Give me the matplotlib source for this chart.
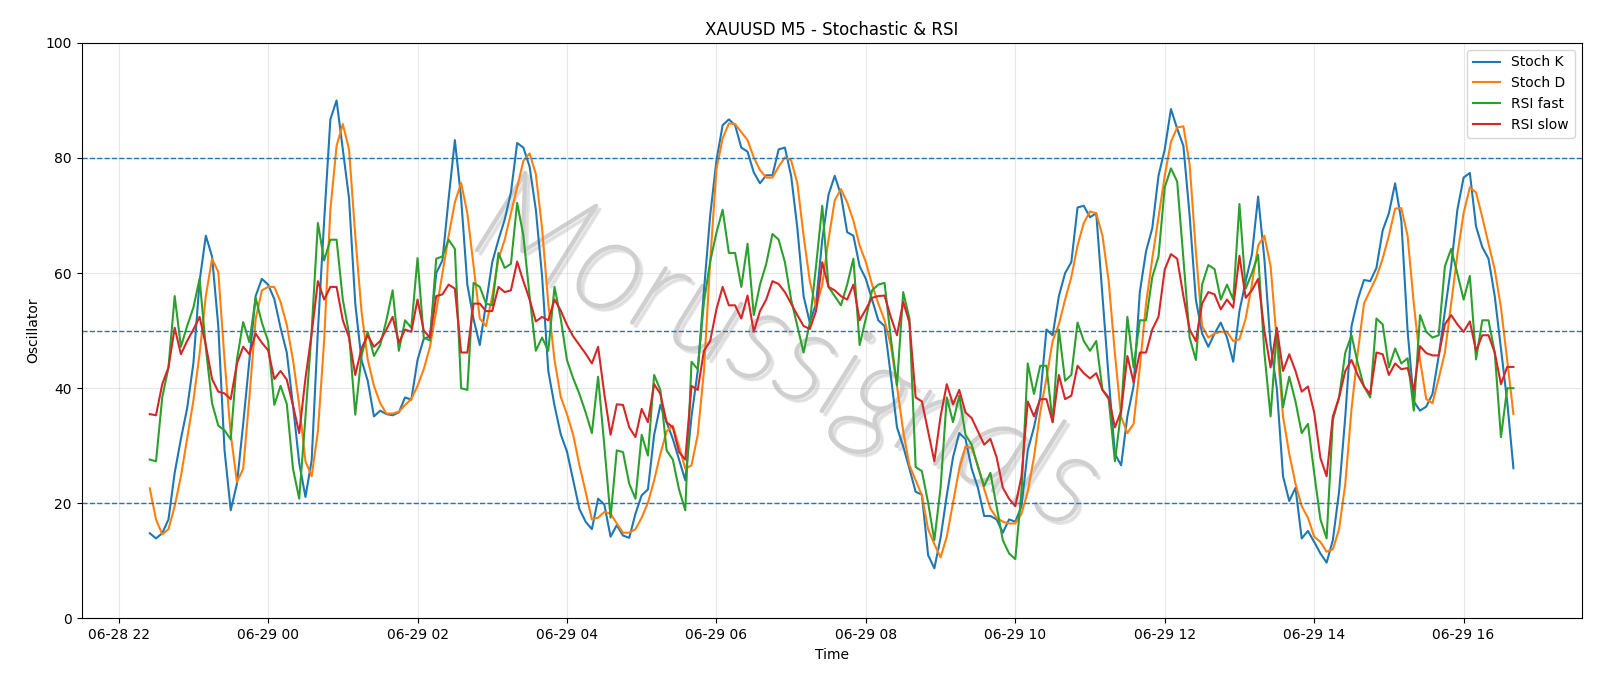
import numpy as np
import pandas as pd
import matplotlib
matplotlib.use('Agg')
import matplotlib.pyplot as plt
import matplotlib.dates as mdates
import matplotlib.patheffects as pe

START = '2025-06-28 22:25'   # first M5 bar
N_BARS = 220

# Stochastic %K
stoch_k = [
    14.8, 13.9, 14.8, 17.2, 25.3, 31.2, 36.5, 44.3, 58.6, 66.5,
    62.9, 50.8, 29.3, 18.8, 23.4, 33.8, 44.9, 56.0, 59.0, 58.0,
    55.5, 50.5, 46.2, 37.0, 27.0, 21.1, 27.5, 50.0, 69.0, 86.7,
    90.0, 81.5, 73.0, 54.7, 44.9, 41.3, 35.1, 36.1, 35.5, 35.3,
    35.8, 38.4, 38.0, 44.9, 48.6, 49.0, 60.0, 62.2, 73.0, 83.1,
    73.0, 58.0, 52.0, 47.5, 54.7, 61.9, 65.8, 69.3, 74.0, 82.6,
    81.8, 78.5, 71.0, 59.5, 43.0, 37.0, 32.0, 29.0, 24.0, 19.0,
    16.8, 15.5, 20.8, 19.8, 14.2, 16.2, 14.4, 14.0, 18.2, 21.4,
    22.4, 31.9, 37.1, 34.1, 31.2, 27.6, 24.0, 35.1, 43.0, 57.0,
    70.0, 79.5, 85.7, 86.7, 85.7, 81.8, 81.1, 77.5, 75.6, 77.0,
    77.0, 81.5, 81.8, 76.9, 67.8, 56.0, 51.4, 54.7, 65.8, 73.6,
    76.9, 73.6, 67.1, 66.5, 61.2, 59.0, 55.4, 51.8, 50.8, 42.3,
    33.2, 29.9, 26.0, 22.0, 21.5, 11.0, 8.7, 14.0, 21.4, 28.0,
    32.2, 31.2, 26.0, 22.7, 17.8, 17.8, 17.2, 14.9, 17.2, 16.8,
    19.5, 29.2, 33.2, 38.4, 50.2, 49.2, 56.0, 60.0, 61.9, 71.4,
    71.7, 69.7, 70.4, 56.0, 41.7, 28.6, 26.6, 35.1, 40.4, 56.7,
    63.8, 67.8, 76.9, 81.5, 88.5, 85.1, 82.1, 70.0, 55.4, 49.5,
    47.2, 49.5, 51.4, 48.8, 44.6, 53.4, 58.6, 63.2, 73.3, 62.5,
    47.5, 40.0, 24.7, 20.4, 22.7, 13.9, 15.2, 13.3, 11.3, 9.7,
    13.6, 22.0, 35.1, 50.8, 55.4, 58.8, 58.6, 60.9, 67.4, 70.4,
    75.6, 69.1, 50.0, 37.7, 36.1, 36.8, 39.0, 45.6, 53.4, 61.2,
    71.0, 76.6, 77.4, 68.1, 64.5, 62.5, 56.0, 46.9, 37.7, 26.1,
]

# Stochastic %D
stoch_d = [
    22.6, 17.2, 14.6, 15.5, 19.5, 24.7, 31.2, 37.8, 46.0, 56.0,
    62.5, 60.2, 45.0, 32.0, 23.7, 26.0, 38.4, 52.0, 57.0, 57.6,
    57.6, 55.0, 51.0, 44.9, 37.1, 27.3, 24.7, 32.5, 48.2, 71.0,
    82.1, 85.9, 81.5, 66.5, 53.4, 45.0, 40.4, 37.4, 35.6, 35.6,
    35.9, 37.1, 38.1, 40.4, 43.3, 47.2, 53.4, 60.0, 66.5, 72.3,
    75.7, 70.4, 61.2, 52.1, 50.8, 56.0, 62.5, 65.8, 70.4, 74.9,
    79.5, 80.8, 77.2, 67.8, 54.7, 44.9, 38.5, 35.5, 31.9, 26.6,
    22.0, 17.2, 17.5, 18.5, 18.2, 16.5, 14.9, 14.9, 15.5, 17.5,
    20.1, 24.0, 28.6, 32.5, 33.5, 29.9, 26.0, 26.6, 31.9, 43.0,
    62.0, 78.0, 83.4, 86.0, 85.9, 84.5, 83.1, 80.1, 77.9, 76.6,
    76.6, 78.5, 80.1, 79.6, 75.6, 66.5, 58.6, 54.0, 58.0, 65.8,
    72.6, 74.6, 72.3, 69.1, 64.8, 61.9, 58.0, 54.7, 51.8, 47.5,
    40.4, 32.5, 26.6, 24.0, 21.4, 15.5, 12.9, 10.6, 14.2, 20.1,
    26.0, 29.9, 29.6, 26.6, 22.5, 19.1, 17.5, 16.8, 16.5, 16.5,
    18.2, 22.0, 28.0, 35.8, 41.7, 48.2, 51.1, 55.4, 59.3, 64.8,
    68.7, 70.7, 70.4, 66.5, 58.6, 46.0, 35.0, 32.2, 33.8, 43.6,
    54.7, 62.5, 69.7, 76.9, 82.8, 85.3, 85.5, 78.9, 63.8, 50.8,
    48.8, 49.5, 49.8, 49.8, 48.2, 48.5, 52.1, 58.0, 64.8, 66.5,
    61.2, 48.2, 35.1, 28.6, 23.4, 19.5, 17.5, 14.2, 13.3, 11.6,
    12.0, 15.5, 23.4, 36.4, 46.2, 54.7, 57.0, 59.3, 62.5, 66.5,
    71.2, 71.3, 66.5, 54.7, 44.9, 38.1, 37.4, 41.7, 46.2, 54.7,
    63.2, 70.4, 74.9, 74.0, 69.7, 65.1, 60.6, 54.0, 44.9, 35.5,
]

rsi_fast = [
    27.6, 27.3, 38.4, 43.6, 56.0, 47.2, 50.8, 54.0, 59.0, 47.0,
    37.4, 33.5, 32.7, 31.1, 45.0, 51.5, 48.0, 55.7, 51.4, 48.2,
    37.1, 40.4, 37.3, 26.0, 20.8, 35.0, 50.0, 68.7, 62.2, 65.8,
    65.8, 55.4, 49.5, 35.4, 45.6, 49.8, 45.6, 47.5, 51.8, 57.0,
    46.5, 51.8, 50.5, 62.6, 48.8, 48.3, 62.5, 62.9, 65.8, 64.2,
    40.0, 39.7, 58.3, 57.6, 54.7, 54.4, 63.5, 60.9, 61.6, 72.2,
    66.5, 56.0, 46.5, 48.8, 46.5, 57.6, 52.1, 44.9, 41.7, 39.0,
    35.8, 32.2, 42.0, 30.0, 17.5, 29.2, 28.9, 23.4, 20.8, 31.9,
    28.3, 42.3, 39.7, 29.2, 27.6, 22.4, 18.8, 44.6, 43.3, 55.0,
    62.0, 67.0, 71.0, 63.5, 63.5, 57.6, 65.1, 52.7, 58.0, 61.6,
    66.8, 65.8, 61.9, 55.4, 50.8, 46.2, 51.4, 61.2, 71.7, 57.6,
    56.0, 54.4, 58.0, 62.5, 47.5, 52.1, 57.0, 58.0, 58.3, 48.8,
    40.5, 56.7, 52.1, 26.3, 25.6, 20.1, 13.6, 22.7, 38.4, 34.1,
    38.7, 31.9, 30.2, 26.3, 23.0, 25.3, 19.5, 13.6, 11.3, 10.3,
    22.0, 44.3, 39.0, 43.9, 43.9, 34.1, 50.2, 41.3, 42.3, 51.4,
    48.2, 46.5, 48.2, 39.7, 38.1, 27.3, 36.0, 52.4, 43.6, 51.8,
    51.8, 59.3, 62.9, 74.9, 78.2, 75.9, 62.5, 48.8, 44.9, 58.0,
    61.4, 60.7, 55.4, 58.0, 55.4, 72.0, 57.3, 60.0, 63.2, 46.2,
    35.1, 50.1, 36.7, 42.0, 37.7, 32.2, 33.8, 25.3, 17.2, 13.9,
    34.5, 38.4, 46.2, 49.2, 44.3, 40.3, 38.4, 52.1, 51.1, 43.6,
    46.9, 44.3, 45.2, 36.1, 52.7, 49.8, 48.8, 49.2, 61.2, 64.2,
    59.9, 55.4, 59.5, 45.0, 51.8, 51.8, 46.2, 31.5, 40.0, 40.0,
]

rsi_slow = [
    35.5, 35.3, 40.7, 43.6, 50.5, 45.9, 48.2, 50.2, 52.4, 47.5,
    41.6, 39.4, 39.1, 38.1, 44.3, 47.2, 45.9, 49.5, 47.9, 46.6,
    41.6, 43.0, 41.5, 37.0, 32.2, 41.7, 49.5, 58.6, 55.4, 57.6,
    57.6, 51.8, 48.8, 42.3, 46.9, 49.2, 47.2, 48.2, 50.2, 52.4,
    47.9, 50.2, 49.8, 55.4, 50.0, 48.8, 56.0, 56.3, 58.0, 57.3,
    46.2, 46.2, 54.7, 54.7, 53.4, 53.4, 57.6, 56.7, 57.0, 62.0,
    58.6, 55.4, 51.6, 52.4, 51.8, 55.4, 53.5, 51.0, 49.0, 47.5,
    46.0, 44.3, 47.2, 39.0, 31.9, 37.2, 37.1, 33.2, 31.5, 36.4,
    34.1, 40.7, 39.0, 34.1, 33.2, 28.9, 27.6, 40.4, 39.7, 46.5,
    48.2, 53.7, 57.6, 54.4, 54.4, 52.1, 56.1, 49.8, 53.4, 55.4,
    58.6, 58.1, 56.7, 54.7, 52.7, 50.8, 50.3, 53.4, 61.9, 57.6,
    57.0, 56.0, 55.4, 58.0, 51.8, 53.7, 55.7, 56.0, 56.1, 52.4,
    49.2, 55.0, 51.4, 38.4, 37.7, 32.5, 27.3, 35.1, 40.7, 37.2,
    39.7, 35.8, 34.8, 32.5, 30.2, 31.2, 28.0, 22.7, 20.8, 19.5,
    24.7, 37.7, 35.1, 38.1, 38.1, 34.1, 42.3, 38.1, 38.7, 43.9,
    42.6, 41.7, 42.6, 39.7, 38.4, 33.2, 36.0, 45.6, 41.0, 46.2,
    46.2, 50.2, 52.4, 60.6, 63.3, 62.5, 56.0, 50.2, 48.2, 54.7,
    56.7, 56.3, 53.7, 55.4, 54.0, 63.0, 55.7, 57.0, 59.0, 50.0,
    43.6, 50.5, 43.0, 45.9, 43.0, 39.4, 40.3, 35.8, 27.9, 24.7,
    35.1, 38.4, 43.0, 44.9, 42.3, 40.3, 39.0, 46.2, 45.9, 42.3,
    44.3, 43.3, 43.5, 39.7, 47.3, 46.1, 45.7, 45.7, 51.1, 52.7,
    51.1, 49.8, 51.6, 46.5, 49.2, 49.2, 46.2, 40.7, 43.7, 43.7,
]

levels = [80, 50, 20]

t = pd.date_range(START, periods=N_BARS, freq='5min')

fig, ax = plt.subplots(figsize=(16, 6.86), dpi=100)
fig.subplots_adjust(left=0.051, right=0.9885, top=0.9375, bottom=0.0985)

ax.plot(t, stoch_k, label='Stoch K', lw=1.5)
ax.plot(t, stoch_d, label='Stoch D', lw=1.5)
ax.plot(t, rsi_fast, label='RSI fast', lw=1.5)
ax.plot(t, rsi_slow, label='RSI slow', lw=1.5)

for lv in levels:
    ax.axhline(lv, color='tab:blue', linestyle='--', lw=1)

ax.set_ylim(0, 100)
ax.xaxis.set_major_locator(mdates.HourLocator(byhour=range(0, 24, 2)))
ax.xaxis.set_major_formatter(mdates.DateFormatter('%m-%d %H'))
ax.grid(True, alpha=0.3)

ax.set_title('XAUUSD M5 - Stochastic & RSI')
ax.set_xlabel('Time')
ax.set_ylabel('Oscillator')
ax.legend(loc='upper right')

# watermark: thin grey letters with a soft shadow
ax.text(0.47, 0.455, 'Morussignals', transform=ax.transAxes,
        fontsize=94, style='italic', fontweight='light',
        family=['Lato', 'DejaVu Sans'], color='#cfcfcf',
        rotation=-25, ha='center', va='center', zorder=1.5,
        path_effects=[pe.Stroke(linewidth=2.2, foreground='#9a9a9a',
                                offset=(2.5, -2.5), alpha=0.25),
                      pe.Stroke(linewidth=2.2, foreground='#cfcfcf'),
                      pe.Normal()])

plt.savefig('out.png', dpi=100)
